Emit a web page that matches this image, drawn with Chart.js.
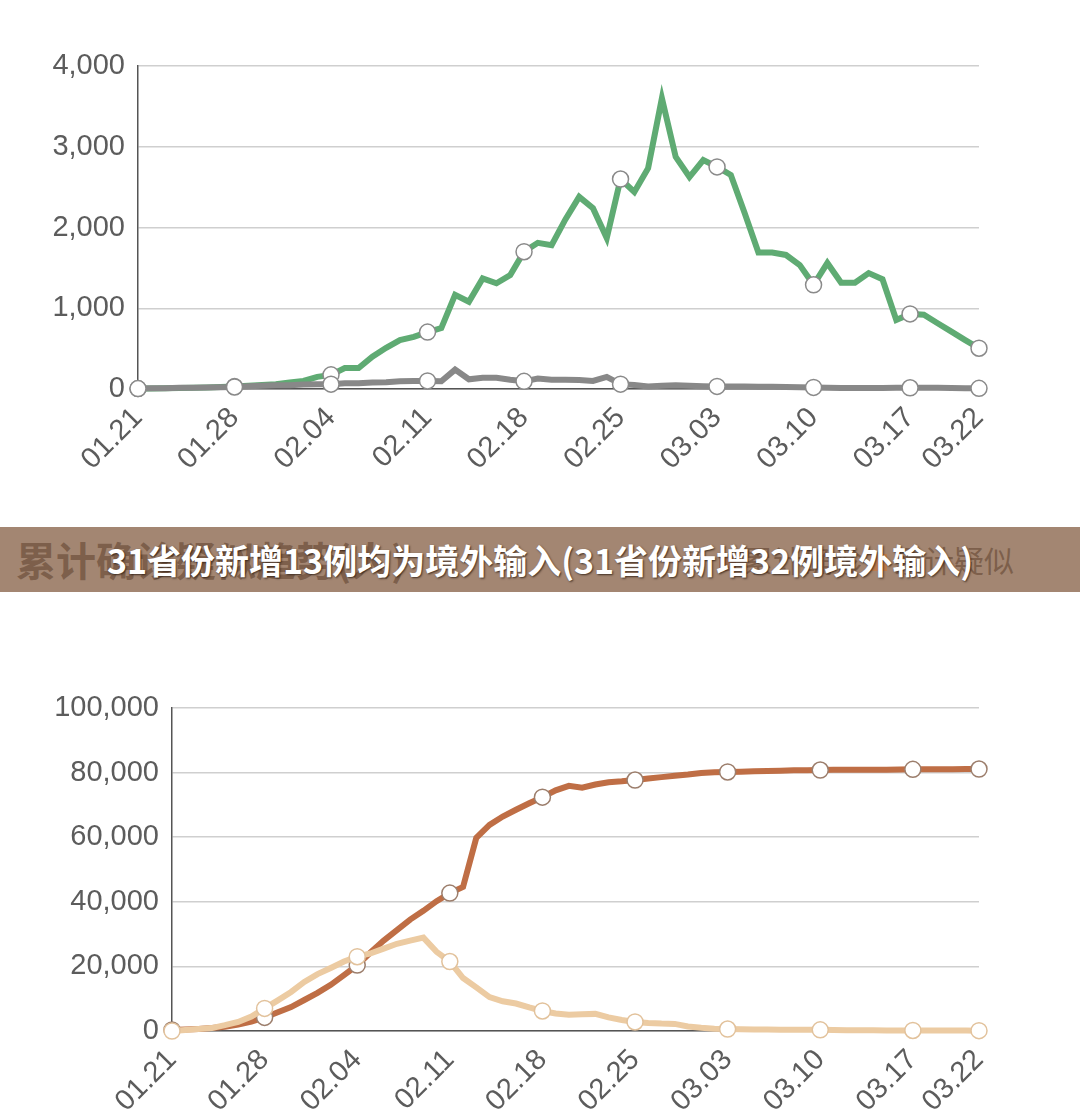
<!DOCTYPE html>
<html>
<head>
<meta charset="utf-8">
<script src="https://cdn.jsdelivr.net/npm/chart.js@4.4.1/dist/chart.umd.min.js"></script>
<style>
  body { margin: 0; background: #fff; width: 1080px; height: 1120px; position: relative; overflow: hidden; }
  .box { position: absolute; left: 0; width: 1080px; }
  #topBox { top: 0; height: 520px; }
  #bottomBox { top: 592px; height: 528px; }
  .banner { position: absolute; left: 0; top: 527px; width: 1080px; height: 65px; background: #a38672; overflow: hidden; }
  .faded { position: absolute; top: 0; height: 65px; line-height: 65px; font-family: "Noto Sans CJK SC", sans-serif; color: rgba(92, 62, 42, 0.55); white-space: nowrap; }
  .faded.left { left: 16px; font-size: 40px; font-weight: bold; }
  .faded.right { left: 712px; font-size: 30px; }
  .sw { display: inline-block; width: 17px; height: 17px; margin: 0 7px; vertical-align: 1px; }
  .title { position: absolute; left: 0; top: 0; width: 1080px; height: 65px; line-height: 65px; text-align: center;
           font-family: "Noto Sans CJK SC", sans-serif; font-weight: bold; font-size: 34px; color: #fff;
           text-shadow: 1px 1px 2px rgba(40, 25, 15, 0.8); white-space: nowrap; }
</style>
</head>
<body>
<div class="box" id="topBox"><canvas id="dailyChart"></canvas></div>
<div class="banner">
  <div class="faded left">累计确诊疑似趋势(人)</div>
  <div class="faded right"><span class="sw" style="background:rgba(150,80,45,0.5)"></span>累计确诊<span class="sw" style="background:rgba(200,120,60,0.7)"></span>累计疑似</div>
  <div class="title">31省份新增13例均为境外输入(31省份新增32例境外输入)</div>
</div>
<div class="box" id="bottomBox"><canvas id="totalChart"></canvas></div>
<script>
const dates = [
  '01.21','01.22','01.23','01.24','01.25','01.26','01.27','01.28','01.29','01.30','01.31',
  '02.01','02.02','02.03','02.04','02.05','02.06','02.07','02.08','02.09','02.10',
  '02.11','02.12','02.13','02.14','02.15','02.16','02.17','02.18','02.19','02.20',
  '02.21','02.22','02.23','02.24','02.25','02.26','02.27','02.28','02.29',
  '03.01','03.02','03.03','03.04','03.05','03.06','03.07','03.08','03.09','03.10',
  '03.11','03.12','03.13','03.14','03.15','03.16','03.17','03.18','03.19','03.20','03.21','03.22'
];
const tickDates = ['01.21','01.28','02.04','02.11','02.18','02.25','03.03','03.10','03.17','03.22'];

// top chart: daily new
const dailyCured = [
  5, 5, 10, 12, 15, 20, 25, 30, 40, 50, 60,
  80, 100, 150, 175, 260, 260, 400, 510, 605, 645,
  705, 755, 1165, 1080, 1370, 1310, 1410, 1700, 1810, 1780,
  2100, 2380, 2240, 1870, 2600, 2440, 2735, 3600, 2875,
  2625, 2835, 2750, 2650, 2180, 1690, 1690, 1660, 1535, 1290,
  1560, 1315, 1315, 1435, 1360, 855, 930, 920, 815, 710, 605, 505
];
const dailyDeaths = [
  5, 8, 10, 15, 15, 20, 22, 25, 35, 40, 45,
  45, 55, 60, 60, 70, 72, 80, 85, 95, 100,
  100, 95, 240, 120, 140, 140, 115, 95, 130, 115,
  115, 110, 100, 150, 60, 50, 30, 40, 45,
  40, 35, 32, 30, 30, 28, 27, 25, 22, 20,
  15, 12, 12, 12, 13, 15, 15, 15, 14, 12, 10, 8
];

// bottom chart: cumulative
const totalConfirmed = [
  300, 450, 600, 900, 1300, 2000, 2900, 4200, 5800, 7400, 9600,
  11800, 14300, 17300, 20400, 24300, 28000, 31200, 34500, 37200, 40200,
  42700, 44600, 59800, 63800, 66400, 68500, 70500, 72400, 74500, 75900,
  75300, 76300, 77000, 77300, 77700, 78200, 78600, 79000, 79400,
  79900, 80100, 80200, 80300, 80400, 80500, 80600, 80700, 80750, 80800,
  80850, 80850, 80900, 80900, 80900, 80950, 81000, 81000, 81050, 81050, 81100, 81100
];
const totalSuspected = [
  0, 300, 600, 900, 1800, 2800, 4500, 7000, 9500, 12100, 15200,
  17600, 19500, 21500, 23000, 24000, 25500, 27000, 28000, 28900, 24500,
  21500, 16400, 13500, 10500, 9200, 8500, 7300, 6200, 5400, 5000,
  5200, 5300, 4200, 3400, 2800, 2500, 2300, 2200, 1400,
  1000, 700, 600, 550, 500, 450, 420, 400, 380, 350,
  300, 250, 220, 200, 180, 170, 160, 150, 140, 130, 120, 110
];

const markerRadius = dates.map(d => tickDates.includes(d) ? 8 : 0);
const tickFont = { family: '"Liberation Sans", Arial, sans-serif', size: 29 };

function series(values, color, markerBorder) {
  return {
    data: values,
    borderColor: color,
    borderWidth: 6,
    borderJoinStyle: 'miter',
    borderCapStyle: 'round',
    tension: 0,
    clip: false,
    pointRadius: markerRadius,
    pointHoverRadius: markerRadius,
    pointBackgroundColor: '#fff',
    pointBorderColor: markerBorder,
    pointBorderWidth: 1.5
  };
}

function lineChart(id, datasets, yMax, yStep, yWidth, xHeight, padding) {
  return new Chart(document.getElementById(id), {
    type: 'line',
    data: { labels: dates, datasets: datasets },
    options: {
      responsive: true,
      maintainAspectRatio: false,
      animation: false,
      layout: { padding: padding },
      plugins: { legend: { display: false }, tooltip: { enabled: false } },
      scales: {
        x: {
          grid: { display: false },
          border: { display: true, color: '#555', width: 1.5 },
          ticks: {
            autoSkip: false,
            minRotation: 45,
            maxRotation: 45,
            padding: 4,
            color: '#5c5c5c',
            font: tickFont,
            callback: (v, i) => tickDates.includes(dates[i]) ? dates[i] : ''
          },
          afterFit: (s) => { s.height = xHeight; }
        },
        y: {
          min: 0,
          max: yMax,
          grid: { color: '#cfcfcf', lineWidth: 1.5, drawTicks: false },
          border: { display: true, color: '#555', width: 1.5 },
          ticks: {
            stepSize: yStep,
            padding: 13,
            color: '#5c5c5c',
            font: tickFont,
            callback: (v) => v.toLocaleString('en-US')
          },
          afterFit: (s) => { s.width = yWidth; }
        }
      }
    }
  });
}

lineChart('dailyChart', [
  series(dailyDeaths, '#888888', '#8a8a8a'),
  series(dailyCured, '#5fab73', '#8a8a8a')
], 4000, 1000, 138, 131, { top: 66, right: 101, bottom: 0, left: 0 });

lineChart('totalChart', [
  series(totalSuspected, '#eccba2', '#e2c29c'),
  series(totalConfirmed, '#bf6e45', '#9c7e6c')
], 100000, 20000, 172, 89, { top: 116, right: 101, bottom: 0, left: 0 });
</script>
</body>
</html>
